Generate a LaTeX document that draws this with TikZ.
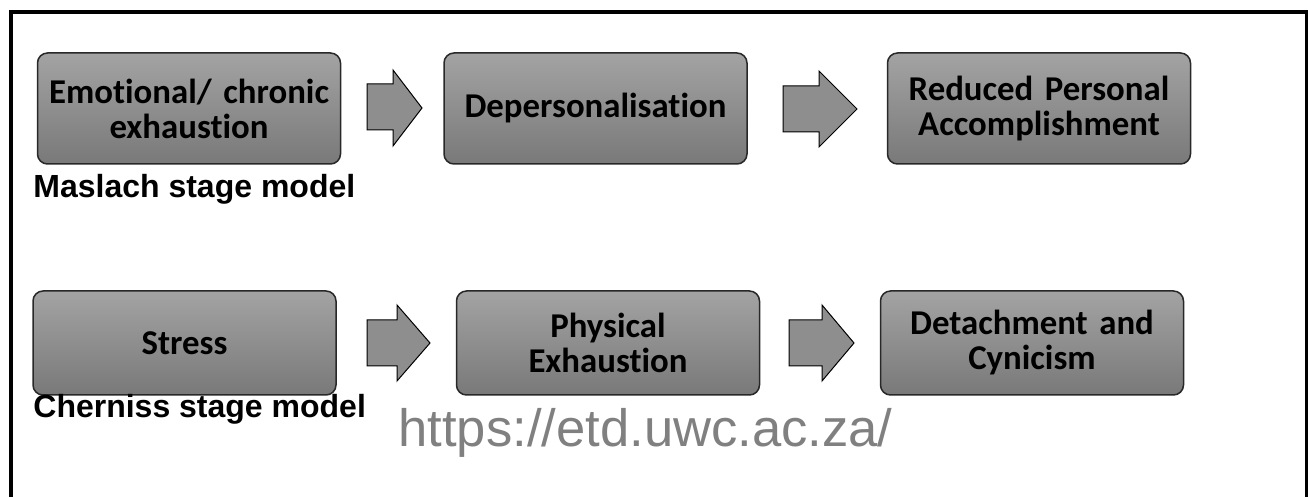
\documentclass[tikz,border=0pt]{standalone}
\usepackage{fontspec}
\newfontfamily\boxfont{Carlito}[Ligatures=NoCommon]
\newfontfamily\labelfont{Liberation Sans}
\usetikzlibrary{positioning}

\begin{document}
\begin{tikzpicture}[x=0.5pt,y=-0.5pt,
  stagebox/.style={draw=boxline, line width=0.75pt, rounded corners=5pt,
    top color=boxtop, bottom color=boxbot, minimum width=151.5pt,
    text width=145pt, align=center, inner sep=0pt,
    font=\boxfont\bfseries\fontsize{17.4}{17.5}\selectfont},
  toprow/.style={stagebox, minimum height=55.5pt},
  botrow/.style={stagebox, minimum height=52pt},
  stagearrow/.style={draw=black, line width=0.5pt, fill=arrowgray},
  modellabel/.style={anchor=base west, inner sep=0pt,
    font=\labelfont\bfseries\fontsize{16}{18}\selectfont}]
\definecolor{boxtop}{RGB}{163,163,163}
\definecolor{boxbot}{RGB}{121,121,121}
\definecolor{boxline}{RGB}{40,40,40}
\definecolor{arrowgray}{RGB}{142,142,142}
\definecolor{markgray}{RGB}{128,128,128}

\useasboundingbox (0,0) rectangle (1308,497);

% Rahmen (unten offen)
\draw[line width=2pt] (11,500) -- (11,12) -- (1306.5,12) -- (1306.5,500);

% ======================= Maslach =======================
\node[toprow] (emo) at (189,108.5) {Emotional/ chronic\\exhaustion};
\node[toprow] (dep) at (595.5,108.5) {Depersonalisation};
\node[toprow] (rpa) at (1039,108.5) {Reduced Personal\\Accomplishment};
\node[modellabel] (maslach) at (33,198) {Maslach stage model};

% Blockpfeile
\draw[stagearrow] (367,84) -- (393,84) -- (393,70) -- (422,108) -- (393,146)
  -- (393,130) -- (367,130) -- cycle;
\draw[stagearrow] (783,86) -- (819,86) -- (819,71) -- (857,109) -- (819,147)
  -- (819,132) -- (783,132) -- cycle;

% ======================= Cherniss =======================
\node[botrow] (stress) at (184.5,343) {Stress};
\node[botrow] (phys) at (608,343) {Physical\\Exhaustion};
\node[botrow] (detach) at (1032,343) {Detachment and\\Cynicism};
\node[modellabel] (cherniss) at (33,418) {Cherniss stage model};

% Blockpfeile
\draw[stagearrow] (367,320) -- (397,320) -- (397,305) -- (430,343) -- (397,381)
  -- (397,366) -- (367,366) -- cycle;
\draw[stagearrow] (789,320) -- (822,320) -- (822,305) -- (854,343) -- (822,381)
  -- (822,366) -- (789,366) -- cycle;

% Wasserzeichen
\node[anchor=base west, inner sep=0pt, text=markgray,
  font=\labelfont\fontsize{26.3}{30}\selectfont] (mark) at (398,447)
  {https://etd.uwc.ac.za/};

\end{tikzpicture}
\end{document}
